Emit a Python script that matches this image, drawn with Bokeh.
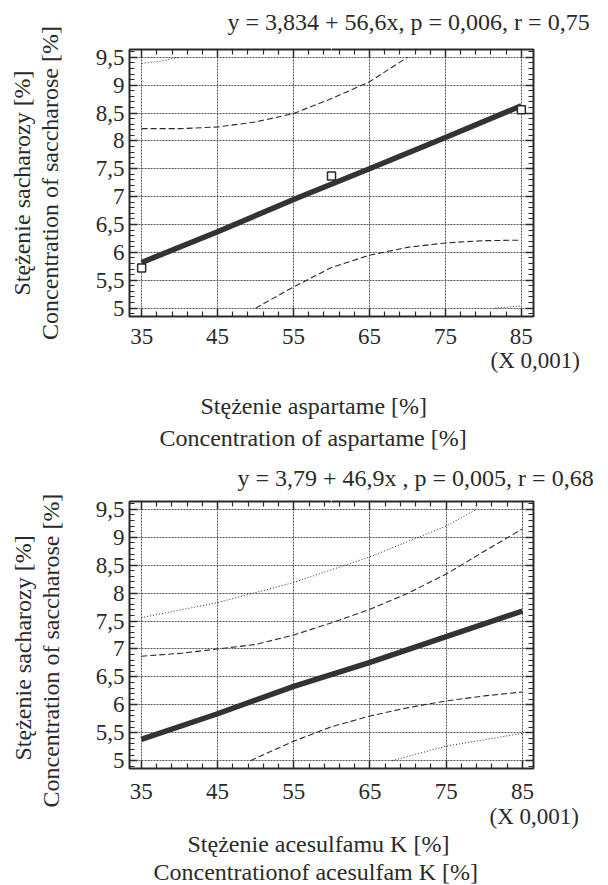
from bokeh.plotting import figure
from bokeh.models import Range1d, FixedTicker, LinearAxis, Title, Grid
from bokeh.layouts import column
from bokeh.embed import file_html
from bokeh.resources import INLINE

FONT = "Liberation Serif, Times New Roman, serif"
INK = "#2a2a2a"

# ---------------- data ----------------
x_ticks = [35, 45, 55, 65, 75, 85]
x_minor = [37, 39, 41, 43, 47, 49, 51, 53, 57, 59, 61, 63, 67, 69, 71, 73, 77, 79, 81, 83]
y_ticks = [5, 5.5, 6, 6.5, 7, 7.5, 8, 8.5, 9, 9.5]
y_minor = [round(4.9 + 0.1 * i, 1) for i in range(48)]

# chart 1: aspartame
asp_obs_x = [35, 60, 85]
asp_obs_y = [5.72, 7.37, 8.56]
asp_fit_x = [35, 45, 55, 65, 75, 85]
asp_fit_y = [5.82, 6.37, 6.95, 7.50, 8.06, 8.63]
asp_cu_x = [35, 40, 45, 50, 55, 60, 65, 70]
asp_cu_y = [8.22, 8.22, 8.25, 8.34, 8.49, 8.76, 9.06, 9.50]
asp_cl_x = [50, 55, 60, 65, 70, 75, 80, 85]
asp_cl_y = [5.00, 5.38, 5.73, 5.95, 6.09, 6.17, 6.21, 6.22]
asp_pu_x = [35, 37.5, 40]
asp_pu_y = [9.39, 9.43, 9.50]
asp_pl_x = [81.5, 85]
asp_pl_y = [5.00, 5.04]

# chart 2: acesulfame K
ace_fit_x = [35, 45, 55, 65, 75, 85]
ace_fit_y = [5.38, 5.84, 6.33, 6.76, 7.22, 7.68]
ace_cu_x = [35, 40, 45, 50, 55, 60, 65, 70, 75, 80, 85]
ace_cu_y = [6.87, 6.92, 7.00, 7.08, 7.25, 7.47, 7.71, 8.00, 8.34, 8.75, 9.15]
ace_cl_x = [49.3, 55, 60, 65, 70, 75, 80, 85]
ace_cl_y = [5.00, 5.35, 5.61, 5.80, 5.95, 6.07, 6.16, 6.23]
ace_pu_x = [35, 45, 55, 65, 75, 79]
ace_pu_y = [7.56, 7.83, 8.19, 8.65, 9.20, 9.50]
ace_pl_x = [67.9, 75, 85]
ace_pl_y = [5.00, 5.26, 5.49]

title1 = "y = 3,834 + 56,6x,  p = 0,006,  r = 0,75"
title2 = "y = 3,79 + 46,9x ,  p = 0,005,  r = 0,68"
ylab1 = "Stężenie sacharozy [%]"
ylab2 = "Concentration of saccharose [%]"
xlab_a1 = "Stężenie aspartame [%]"
xlab_a2 = "Concentration of aspartame [%]"
xlab_b1 = "Stężenie acesulfamu K [%]"
xlab_b2 = "Concentrationof acesulfam K [%]"
scale_note = "(X 0,001)"


def ylabel_map(vals):
    out = {}
    for v in vals:
        k = int(v) if float(v).is_integer() else v
        out[k] = str(k).replace(".", ",")
    return out


def style_axis(ax, ticks, minor, show_labels, overrides=None, standoff=6):
    ax.ticker = FixedTicker(ticks=ticks, minor_ticks=minor)
    ax.axis_line_color = None
    ax.major_tick_in = 8
    ax.major_tick_out = 0
    ax.minor_tick_in = 5
    ax.minor_tick_out = 0
    ax.major_tick_line_color = INK
    ax.minor_tick_line_color = INK
    ax.major_tick_line_width = 1.5
    ax.minor_tick_line_width = 1.2
    ax.major_label_text_font = FONT
    ax.major_label_text_font_size = "23px" if show_labels else "1px"
    ax.major_label_text_color = INK if show_labels else None
    ax.major_label_standoff = standoff
    if overrides:
        ax.major_label_overrides = overrides


def spacer_axis(gap, at):
    # a blank axis (one white tick, no label) that only reserves room in a side panel
    return LinearAxis(ticker=FixedTicker(ticks=[at], minor_ticks=[]),
                      major_tick_out=gap, major_tick_in=0, minor_tick_out=0, minor_tick_in=0,
                      major_tick_line_color="white", major_tick_line_width=1,
                      minor_tick_line_color=None, axis_line_color=None,
                      major_label_standoff=0, major_label_text_alpha=0,
                      major_label_text_font_size="1px", major_label_text_color=None)


def txt(text, align="center", offset=0, standoff=0, size="24px"):
    return Title(text=text, align=align, offset=offset, standoff=standoff,
                 text_font=FONT, text_font_size=size, text_font_style="normal",
                 text_color=INK, vertical_align="middle")


def make_chart(h, xr, yr, borders, fit, cu, cl, pu, pl, obs, t):
    left, right, top, bottom = borders
    p = figure(width=608, height=h, x_range=Range1d(*xr), y_range=Range1d(*yr),
               output_backend="svg", toolbar_location=None, title=None,
               min_border_left=left, min_border_right=right,
               min_border_top=top, min_border_bottom=bottom,
               x_axis_type=None, y_axis_type=None)
    p.background_fill_color = "white"
    p.border_fill_color = "white"
    p.outline_line_color = INK
    p.outline_line_width = 2

    xb = LinearAxis(); style_axis(xb, x_ticks, x_minor, True, standoff=t["xstand"])
    xa = LinearAxis(); style_axis(xa, x_ticks, x_minor, False, standoff=0)
    yl = LinearAxis(); style_axis(yl, y_ticks, y_minor, True, ylabel_map(y_ticks), standoff=5)
    yr_ax = LinearAxis(); style_axis(yr_ax, y_ticks, y_minor, False, standoff=0)
    p.add_layout(xb, "below")
    p.add_layout(xa, "above")
    p.add_layout(yl, "left")
    p.add_layout(yr_ax, "right")

    for dim, ticks in ((0, x_ticks), (1, y_ticks)):
        g = Grid(dimension=dim, ticker=FixedTicker(ticks=ticks),
                 grid_line_color="#555555", grid_line_dash="2 1", grid_line_width=1)
        p.add_layout(g)

    p.line(pu[0], pu[1], line_color=INK, line_width=1, line_dash="1 2")
    p.line(pl[0], pl[1], line_color=INK, line_width=1, line_dash="1 2")
    p.line(cu[0], cu[1], line_color=INK, line_width=1.1, line_dash="6 3")
    p.line(cl[0], cl[1], line_color=INK, line_width=1.1, line_dash="6 3")
    p.line(fit[0], fit[1], line_color="#333333", line_width=5.5)
    if obs is not None:
        p.scatter(obs[0], obs[1], marker="square", size=8, fill_color="white",
                  line_color=INK, line_width=1.5)

    xmid = (xr[0] + xr[1]) / 2
    ymid = (yr[0] + yr[1]) / 2
    # side-panel texts (nearest the frame first)
    p.add_layout(spacer_axis(t["top_gap"], xmid), "above")
    p.add_layout(txt(t["title"], "left", t["title_off"], 0, "24px"), "above")
    if t["note_gap"] > 0:
        p.add_layout(spacer_axis(t["note_gap"], xmid), "below")
    p.add_layout(txt(t["note"], "left", t["note_off"], 0, "23px"), "below")
    if t["below_gap"] > 0:
        p.add_layout(spacer_axis(t["below_gap"], xmid), "below")
    p.add_layout(txt(t["x1"], "left", t["x1_off"], 0), "below")
    p.add_layout(txt(t["x2"], "left", t["x2_off"], t["x2_so"]), "below")
    p.add_layout(spacer_axis(t["left_gap"], ymid), "left")
    p.add_layout(txt(t["y2"], t["y_align"], t["y2_off"], 0), "left")
    p.add_layout(txt(t["y1"], t["y_align"], t["y1_off"], 0), "left")
    return p


p1 = make_chart(
    455, (33.4, 86.6), (4.85, 9.64), (129, 70, 49, 139),
    (asp_fit_x, asp_fit_y), (asp_cu_x, asp_cu_y), (asp_cl_x, asp_cl_y),
    (asp_pu_x, asp_pu_y), (asp_pl_x, asp_pl_y), (asp_obs_x, asp_obs_y),
    dict(title=title1, title_off=98, top_gap=14, note=scale_note, note_off=361, note_gap=0,
         xstand=12, below_gap=18, x1=xlab_a1, x1_off=71, x2=xlab_a2, x2_off=30, x2_so=8,
         left_gap=29, y1=ylab1, y2=ylab2, y_align="center", y1_off=0, y2_off=0))

p2 = make_chart(
    430, (33.45, 86.45), (4.86, 9.64), (124, 75, 46, 116),
    (ace_fit_x, ace_fit_y), (ace_cu_x, ace_cu_y), (ace_cl_x, ace_cl_y),
    (ace_pu_x, ace_pu_y), (ace_pl_x, ace_pl_y), None,
    dict(title=title2, title_off=108, top_gap=10, note=scale_note, note_off=360, note_gap=1,
         xstand=15, below_gap=0, x1=xlab_b1, x1_off=58, x2=xlab_b2, x2_off=24, x2_so=0,
         left_gap=28, y1=ylab1, y2=ylab2, y_align="left", y1_off=8, y2_off=-39))

layout = column(p1, p2)
open("out.html", "w").write(file_html(layout, INLINE))
